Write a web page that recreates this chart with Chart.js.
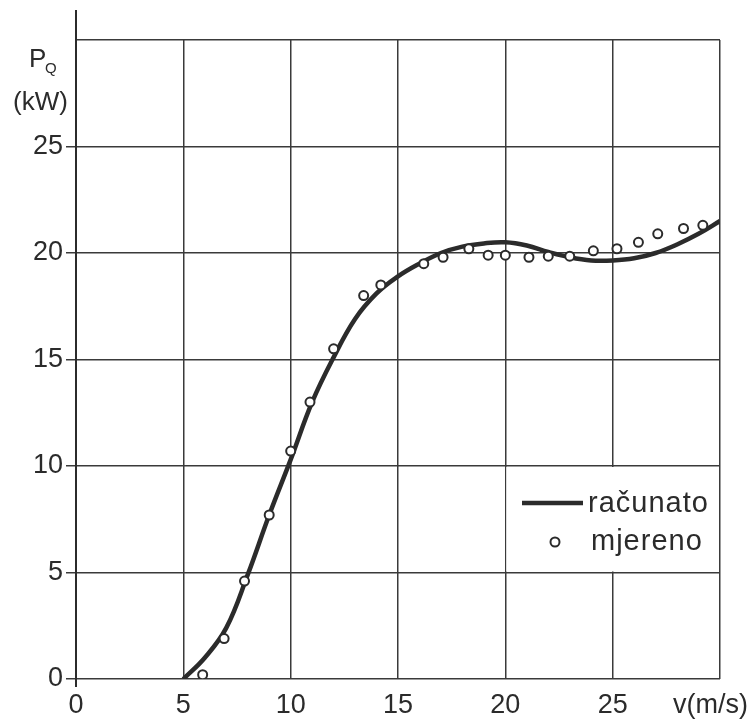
<!DOCTYPE html>
<html>
<head>
<meta charset="utf-8">
<script src="https://cdn.jsdelivr.net/npm/chart.js@4/dist/chart.umd.min.js"></script>
<style>
  html, body { margin: 0; padding: 0; background: #fff; }
  #wrap { width: 748px; height: 722px; }
</style>
</head>
<body>
<div id="wrap"><canvas id="pq_cv"></canvas></div>
<script>
// calculated curve (računato)
var curveV = [5, 6, 7, 8, 9, 10, 11, 12, 13, 14, 15, 16, 17, 18, 19, 20, 21, 22, 23, 24, 25, 26, 27, 28, 29, 30];
var curveP = [0, 1.0, 2.4, 4.9, 7.7, 10.3, 13.0, 15.1, 16.9, 18.1, 18.9, 19.5, 20.0, 20.3, 20.45, 20.5, 20.35, 20.05, 19.8, 19.65, 19.65, 19.75, 20.0, 20.4, 20.9, 21.5];
// measured points (mjereno)
var measV = [5.9, 6.9, 7.85, 9.0, 10.0, 10.9, 12.0, 13.4, 14.2, 16.2, 17.1, 18.3, 19.2, 20.0, 21.1, 22.0, 23.0, 24.1, 25.2, 26.2, 27.1, 28.3, 29.2];
var measP = [0.2, 1.9, 4.6, 7.7, 10.7, 13.0, 15.5, 18.0, 18.5, 19.5, 19.8, 20.2, 19.9, 19.9, 19.8, 19.85, 19.85, 20.1, 20.2, 20.5, 20.9, 21.15, 21.3];

var ink = '#2b2b2b';
var font = '"Liberation Sans", Arial, sans-serif';

function pairs(xs, ys) {
  return xs.map(function (x, i) { return { x: x, y: ys[i] }; });
}

// axis captions, y-axis extension and the legend box in the 20..30 / 5..10 cell
var decoPlugin = {
  id: 'deco',
  beforeDatasetsDraw: function (chart) {
    var ctx = chart.ctx;
    var xs = chart.scales.x, ys = chart.scales.y;
    ctx.save();
    // white legend cell
    ctx.fillStyle = '#fff';
    var l = xs.getPixelForValue(20) + 1, r = xs.getPixelForValue(30) - 1;
    var t = ys.getPixelForValue(10) + 1, b = ys.getPixelForValue(5) - 1;
    ctx.fillRect(l, t, r - l, b - t);
    // y axis runs above the grid
    ctx.strokeStyle = ink;
    ctx.lineWidth = 2;
    var x0 = xs.getPixelForValue(0);
    ctx.beginPath();
    ctx.moveTo(x0, chart.chartArea.top);
    ctx.lineTo(x0, 10);
    ctx.moveTo(x0, chart.chartArea.bottom);
    ctx.lineTo(x0, chart.chartArea.bottom + 8);
    ctx.stroke();
    ctx.restore();
  },
  afterDraw: function (chart) {
    var ctx = chart.ctx;
    ctx.save();
    ctx.fillStyle = ink;
    ctx.textBaseline = 'alphabetic';
    // P_Q (kW)
    ctx.textAlign = 'left';
    ctx.font = '26px ' + font;
    ctx.fillText('P', 29, 67);
    ctx.font = '15px ' + font;
    ctx.fillText('Q', 45, 73);
    ctx.font = '26px ' + font;
    ctx.fillText('(kW)', 13, 110);
    // v(m/s)
    ctx.textAlign = 'right';
    ctx.font = '27px ' + font;
    ctx.fillText('v(m/s)', 748, 713);
    // legend
    var lx = 522;
    ctx.strokeStyle = ink;
    ctx.lineWidth = 4.5;
    ctx.beginPath();
    ctx.moveTo(lx, 503);
    ctx.lineTo(lx + 61, 503);
    ctx.stroke();
    ctx.lineWidth = 2;
    ctx.beginPath();
    ctx.arc(555, 542, 4.5, 0, Math.PI * 2);
    ctx.fillStyle = '#fff';
    ctx.fill();
    ctx.stroke();
    ctx.fillStyle = ink;
    ctx.textAlign = 'left';
    ctx.font = '29px ' + font;
    ctx.letterSpacing = '1px';
    ctx.fillText('računato', 588, 512);
    ctx.fillText('mjereno', 591, 550);
    ctx.restore();
  }
};

var chart = new Chart('pq_cv', {
  type: 'scatter',
  data: {
    datasets: [{
      label: 'računato',
      data: pairs(curveV, curveP),
      showLine: true,
      borderColor: ink,
      borderWidth: 4.5,
      pointRadius: 0,
      tension: 0.4,
      order: 2
    }, {
      label: 'mjereno',
      data: pairs(measV, measP),
      showLine: false,
      pointStyle: 'circle',
      pointRadius: 4.5,
      pointBorderWidth: 2,
      pointBorderColor: ink,
      pointBackgroundColor: '#fff',
      order: 1
    }]
  },
  options: {
    responsive: true,
    maintainAspectRatio: false,
    animation: false,
    layout: { padding: { left: 0, right: 28, top: 40, bottom: 0 } },
    plugins: {
      legend: { display: false },
      tooltip: { enabled: false }
    },
    scales: {
      x: {
        type: 'linear',
        min: 0,
        max: 30,
        ticks: {
          stepSize: 5,
          color: ink,
          font: { family: font, size: 27 },
          padding: 10,
          callback: function (v) { return v === 30 ? '' : v; }
        },
        grid: { color: '#3a3a3a', lineWidth: 1.5, drawTicks: false },
        border: { display: false },
        afterFit: function (s) { s.height = 43; }
      },
      y: {
        min: 0,
        max: 30,
        ticks: {
          stepSize: 5,
          color: ink,
          font: { family: font, size: 27 },
          padding: 3,
          callback: function (v) { return v === 30 ? '' : v; }
        },
        grid: {
          color: '#3a3a3a',
          lineWidth: 1.5,
          tickLength: 10,
          tickColor: function (c) { return c.tick && c.tick.value === 30 ? 'rgba(0,0,0,0)' : '#3a3a3a'; }
        },
        border: { color: ink, width: 2 },
        afterFit: function (s) { s.width = 76; }
      }
    }
  },
  plugins: [decoPlugin]
});
</script>
</body>
</html>
